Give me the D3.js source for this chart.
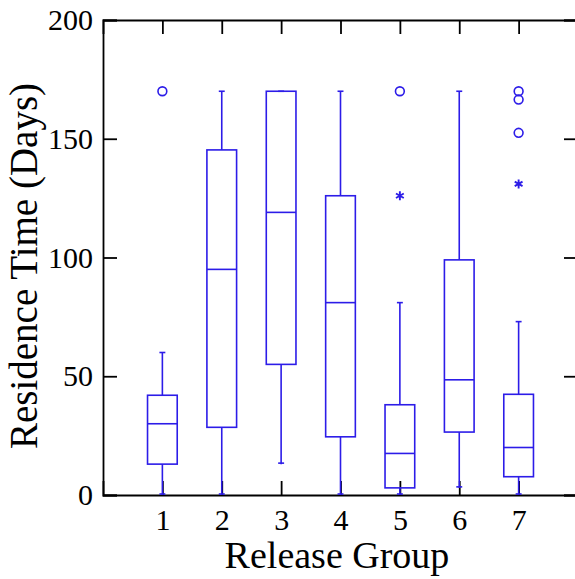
<!DOCTYPE html>
<html>
<head>
<meta charset="utf-8">
<script src="https://cdn.jsdelivr.net/npm/d3@7"></script>
<style>
body{margin:0;background:#fff;}
</style>
</head>
<body>
<svg id="chart" width="575" height="579"></svg>
<script>
// box stats
var groups=[1,2,3,4,5,6,7];
var lowWhisker=[0,0,13,0,0,3,0];
var q1=[13,28.5,55,24.5,3,26.5,7.7];
var median=[30,95,119,81,17.5,48.5,20];
var q3=[42,145.3,170,126,38,99,42.4];
var highWhisker=[60,170,170,170,81,170,73];
// outliers: [group, value]
var circleOutliers=[[1,170],[5,170],[7,170],[7,166.5],[7,152.5]];
var starOutliers=[[5,126],[7,131]];
var yTicks=[0,50,100,150,200];

var blue="#2c1ce8";
var serif="Liberation Serif, DejaVu Serif, serif";
var svg=d3.select("#chart");

var x=d3.scaleLinear().domain([0,8]).range([103,578]);
var y=d3.scaleLinear().domain([0,200]).range([495,20]);

var boxW=x(0.25)-x(0);
var capW=x(0.05)-x(0);

/*
 * frame with inward ticks on all four sides
 */
svg.append("g").attr("transform","translate(103,0)")
	.call(d3.axisLeft(y).tickValues(yTicks).tickSize(-14).tickPadding(10));
svg.append("g").attr("transform","translate(578,0)")
	.call(d3.axisRight(y).tickValues(yTicks).tickSize(-14).tickFormat(""));
svg.append("g").attr("transform","translate(0,495)")
	.call(d3.axisBottom(x).tickValues(groups).tickSize(-14).tickPadding(14).tickFormat(d3.format("d")));
svg.append("g").attr("transform","translate(0,20)")
	.call(d3.axisTop(x).tickValues(groups).tickSize(-14).tickFormat(""));
svg.selectAll("g").attr("font-family",serif);
svg.selectAll("g.tick text").attr("font-size",30).attr("fill","#000");
svg.selectAll(".domain").attr("stroke","#000").attr("stroke-width",1.8);
svg.selectAll(".tick line").attr("stroke","#000").attr("stroke-width",1.8);

var plot=svg.append("g").attr("fill","none").attr("stroke",blue).attr("stroke-width",1.6);

groups.forEach(function(g,i){
	var cx=x(g);
	// whiskers
	plot.append("line").attr("x1",cx).attr("x2",cx).attr("y1",y(q3[i])).attr("y2",y(highWhisker[i]));
	plot.append("line").attr("x1",cx).attr("x2",cx).attr("y1",y(q1[i])).attr("y2",y(lowWhisker[i]));
	plot.append("line").attr("x1",cx-capW).attr("x2",cx+capW).attr("y1",y(highWhisker[i])).attr("y2",y(highWhisker[i]));
	plot.append("line").attr("x1",cx-capW).attr("x2",cx+capW).attr("y1",y(lowWhisker[i])-1).attr("y2",y(lowWhisker[i])-1);
	// box
	plot.append("rect").attr("x",cx-boxW).attr("width",2*boxW)
		.attr("y",y(q3[i])).attr("height",y(q1[i])-y(q3[i]));
	plot.append("line").attr("x1",cx-boxW).attr("x2",cx+boxW).attr("y1",y(median[i])).attr("y2",y(median[i]));
});

plot.selectAll("circle.out").data(circleOutliers).enter().append("circle")
	.attr("class","out").attr("cx",function(d){return x(d[0]);}).attr("cy",function(d){return y(d[1]);}).attr("r",4.4);

plot.selectAll("path.star").data(starOutliers).enter().append("path")
	.attr("class","star").attr("stroke-width",1.9)
	.attr("transform",function(d){return "translate("+x(d[0])+","+y(d[1])+")";})
	.attr("d","M0,-4.5V4.5M-3.9,-2.25L3.9,2.25M-3.9,2.25L3.9,-2.25");

// axis titles
svg.append("text").attr("x",337).attr("y",568).attr("text-anchor","middle")
	.attr("font-family",serif).attr("font-size",38).text("Release Group");
svg.append("text").attr("transform","translate(37,266) rotate(-90)").attr("text-anchor","middle")
	.attr("font-family",serif).attr("font-size",39).text("Residence Time (Days)");
</script>
</body>
</html>
